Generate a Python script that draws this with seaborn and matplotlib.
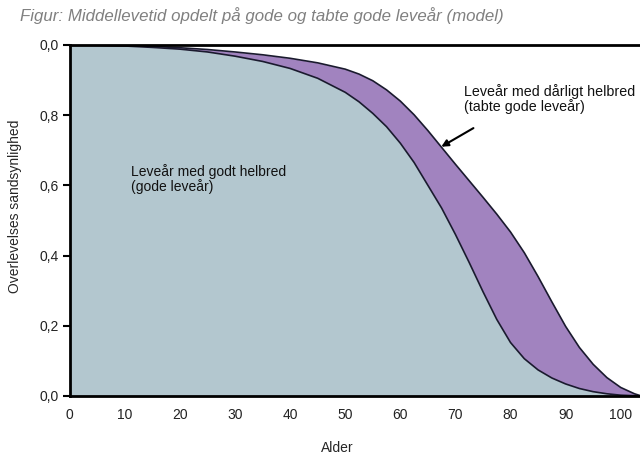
import pandas as pd
import matplotlib
matplotlib.use("Agg")
import matplotlib.pyplot as plt
import seaborn as sns

# Data (model survival curves)
alder = [0, 5, 10, 15, 20, 25, 30, 35, 40, 45, 50, 52.5, 55, 57.5, 60, 62.5, 65, 67.5,
         70, 72.5, 75, 77.5, 80, 82.5, 85, 87.5, 90, 92.5, 95, 97.5, 100, 102.5, 103.5]
total = [1.000, 0.9995, 0.998, 0.996, 0.992, 0.987, 0.980, 0.972, 0.962, 0.949, 0.931,
         0.917, 0.898, 0.872, 0.840, 0.801, 0.756, 0.708, 0.660, 0.613, 0.566, 0.518,
         0.467, 0.408, 0.340, 0.268, 0.198, 0.138, 0.090, 0.052, 0.024, 0.006, 0.001]
god = [1.000, 0.999, 0.997, 0.993, 0.988, 0.980, 0.968, 0.953, 0.933, 0.905, 0.865,
       0.838, 0.805, 0.767, 0.720, 0.665, 0.600, 0.535, 0.460, 0.380, 0.297, 0.218,
       0.152, 0.106, 0.074, 0.051, 0.034, 0.021, 0.012, 0.006, 0.002, 0.0005, 0.000]

yticks = [0.0, 0.2, 0.4, 0.6, 0.8, 1.0]
ytick_labels = ["0,0", "0,2", "0,4", "0,6", "0,8", "0,0"]
xticks = [0, 10, 20, 30, 40, 50, 60, 70, 80, 90, 100]

df = pd.DataFrame({"Alder": alder, "total": total, "god": god})

sns.set_style("white")
plt.rcParams["font.family"] = ["Liberation Sans", "DejaVu Sans"]

fig = plt.figure(figsize=(6.4, 4.54), dpi=100)
ax = fig.add_axes([0.109, 0.128, 0.891, 0.773])

ax.fill_between(df["Alder"], df["god"], df["total"], color="#a183bf", linewidth=0)
ax.fill_between(df["Alder"], 0, df["god"], color="#b3c7cf", linewidth=0)
sns.lineplot(data=df, x="Alder", y="total", ax=ax, color="#1a1a2e", linewidth=1.2)
sns.lineplot(data=df, x="Alder", y="god", ax=ax, color="#1a1a2e", linewidth=1.2)

ax.set_xlim(0, 103.5)
ax.set_ylim(0, 1.0)
ax.set_xticks(xticks)
ax.set_xticklabels([str(x) for x in xticks], fontsize=10, color="#222222")
ax.set_yticks(yticks)
ax.set_yticklabels(ytick_labels, fontsize=10, color="#222222")
ax.tick_params(axis="x", length=0, pad=9)
ax.tick_params(axis="y", length=5, width=1.5, color="black", direction="out", left=True, pad=3)

for side in ["left", "bottom", "top"]:
    ax.spines[side].set_color("black")
    ax.spines[side].set_linewidth(2)
ax.spines["right"].set_visible(False)

ax.set_xlabel("Alder", fontsize=10)
ax.xaxis.set_label_coords(0.47, -0.128)
ax.set_ylabel("Overlevelses sandsynlighed", fontsize=10)
ax.yaxis.set_label_coords(-0.083, 0.541)

ax.text(11.2, 0.66, "Leveår med godt helbred\n(gode leveår)", fontsize=10,
        va="top", ha="left", color="#111111", linespacing=1.0)
ax.text(71.6, 0.89, "Leveår med dårligt helbred\n(tabte gode leveår)", fontsize=10.3,
        va="top", ha="left", color="#111111", linespacing=1.0)
ax.annotate("", xy=(67.0, 0.706), xytext=(73.7, 0.767),
            arrowprops=dict(arrowstyle="-|>", color="black", lw=1.5, mutation_scale=10))

fig.text(0.031, 0.965, "Figur: Middellevetid opdelt på gode og tabte gode leveår (model)",
         fontsize=12.2, style="italic", color="#808080", va="center", ha="left")

fig.savefig("out.png", dpi=100)
